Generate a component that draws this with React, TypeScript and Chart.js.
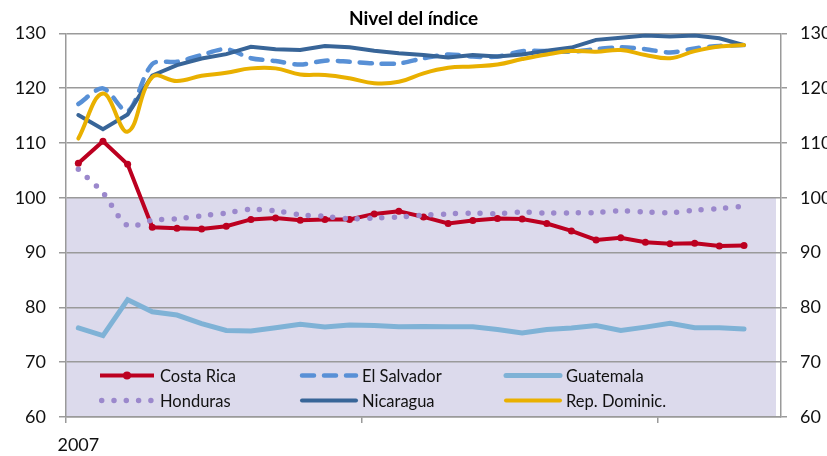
import React, { useEffect, useRef } from 'react';
import { Chart, registerables } from 'chart.js';

Chart.register(...registerables);

// ---------- data ----------
const months = [
  'ene-07', 'feb-07', 'mar-07', 'abr-07', 'may-07', 'jun-07', 'jul-07', 'ago-07', 'sep-07', 'oct-07', 'nov-07', 'dic-07',
  'ene-08', 'feb-08', 'mar-08', 'abr-08', 'may-08', 'jun-08', 'jul-08', 'ago-08', 'sep-08', 'oct-08', 'nov-08', 'dic-08',
  'ene-09', 'feb-09', 'mar-09', 'abr-09', 'may-09',
];
// labels shown at the start of each year (index 0, 12, 24)
const yearTickLabels = ['2007', '', ''];

const costaRica = [106.3, 110.3, 106.1, 94.6, 94.45, 94.3, 94.8, 96.05, 96.3, 95.9, 96.05, 96.05, 97.05, 97.55, 96.5, 95.3, 95.85, 96.2, 96.1, 95.3, 93.95, 92.3, 92.7, 91.9, 91.6, 91.7, 91.2, 91.3];
const elSalvador = [117.1, 119.95, 115.8, 124.4, 124.8, 126.05, 127.1, 125.45, 124.95, 124.3, 125.0, 124.8, 124.5, 124.5, 125.45, 126.15, 125.75, 125.75, 126.75, 126.75, 126.65, 127.1, 127.45, 127.1, 126.5, 127.25, 127.7, 127.85];
const guatemala = [76.25, 74.85, 81.4, 79.2, 78.6, 77.05, 75.8, 75.7, 76.3, 76.9, 76.4, 76.8, 76.7, 76.45, 76.5, 76.45, 76.45, 75.95, 75.35, 75.95, 76.25, 76.7, 75.8, 76.4, 77.1, 76.3, 76.3, 76.05];
const honduras = [105.2, 100.9, 94.9, 95.9, 96.15, 96.7, 97.2, 97.9, 97.6, 96.9, 96.6, 96.15, 96.3, 96.5, 96.8, 97.05, 97.2, 97.1, 97.4, 97.2, 97.25, 97.3, 97.6, 97.4, 97.25, 97.75, 98.0, 98.5];
const nicaragua = [115.1, 112.5, 115.2, 122.3, 124.2, 125.4, 126.2, 127.55, 127.1, 126.95, 127.7, 127.45, 126.8, 126.35, 126.05, 125.6, 126.05, 125.75, 126.15, 126.8, 127.4, 128.8, 129.2, 129.6, 129.4, 129.6, 129.1, 127.85];
const repDominic = [110.8, 119.0, 112.05, 122.0, 121.3, 122.25, 122.8, 123.6, 123.6, 122.5, 122.4, 121.8, 120.9, 121.15, 122.7, 123.7, 123.95, 124.3, 125.3, 126.15, 126.75, 126.65, 126.95, 126.05, 125.45, 126.75, 127.6, 127.85];

const yMin = 60;
const yMax = 130;
const yStep = 10;
const bandTop = 100;

// ---------- styles ----------
const FONT = 'Lato, "Open Sans", sans-serif';
const TEXT = '#111111';
const GRID = '#9a9a9a';
const BAND = '#dcdaec';

const bandPlugin = {
  id: 'band',
  beforeDraw(chart: any) {
    const { ctx, chartArea, scales } = chart;
    const top = scales.y.getPixelForValue(bandTop);
    const bottom = scales.y.getPixelForValue(yMin);
    ctx.save();
    ctx.fillStyle = BAND;
    ctx.fillRect(chartArea.left, top, chartArea.right - chartArea.left - 5, bottom - top);
    ctx.restore();
  },
};

const legendPlugin = {
  id: 'insideLegend',
  afterDatasetsDraw(chart: any) {
    const { ctx, chartArea } = chart;
    const colX = [chartArea.left + 34, chartArea.left + 236, chartArea.left + 440];
    const rowY = [chartArea.bottom - 41.5, chartArea.bottom - 16.5];
    const sampleLen = 54;
    chart.data.datasets.forEach((ds: any, i: number) => {
      const x = colX[i % 3];
      const y = rowY[Math.floor(i / 3)];
      ctx.save();
      ctx.strokeStyle = ds.borderColor;
      ctx.lineWidth = ds.borderWidth;
      ctx.lineCap = ds.borderCapStyle || 'butt';
      ctx.setLineDash(ds.borderDash || []);
      ctx.beginPath();
      if (ds.borderDash && ds.borderDash[0] === 0) {
        ctx.moveTo(x + 1.7, y);
        ctx.lineTo(x + sampleLen, y);
      } else {
        ctx.moveTo(x, y);
        ctx.lineTo(x + sampleLen, y);
      }
      ctx.stroke();
      ctx.setLineDash([]);
      if (ds.pointRadius > 0) {
        ctx.fillStyle = ds.borderColor;
        ctx.beginPath();
        ctx.arc(x + sampleLen / 2, y, ds.pointRadius + 0.5, 0, Math.PI * 2);
        ctx.fill();
      }
      ctx.fillStyle = TEXT;
      ctx.font = `16.5px ${FONT}`;
      ctx.textBaseline = 'middle';
      ctx.textAlign = 'left';
      ctx.fillText(ds.label, x + sampleLen + 6, y + 1);
      ctx.restore();
    });
  },
};

export default function App() {
  const canvasRef = useRef<HTMLCanvasElement | null>(null);

  useEffect(() => {
    if (!canvasRef.current) return;
    const tickFont = { family: FONT, size: 18 };
    const chart = new Chart(canvasRef.current, {
      type: 'line',
      data: {
        labels: months,
        datasets: [
          { label: 'Costa Rica', data: costaRica, borderColor: '#bc0020', backgroundColor: '#bc0020', borderWidth: 4, pointRadius: 3.5, pointHoverRadius: 3.5, pointBorderWidth: 0, pointBackgroundColor: '#bc0020', tension: 0, order: 6 },
          { label: 'El Salvador', data: elSalvador, borderColor: '#5890d6', borderWidth: 4.5, borderDash: [12, 10], borderCapStyle: 'round', pointRadius: 0, tension: 0.3, order: 5 },
          { label: 'Guatemala', data: guatemala, borderColor: '#7fb2d6', borderWidth: 5, borderCapStyle: 'round', pointRadius: 0, tension: 0, order: 4 },
          { label: 'Honduras', data: honduras, borderColor: '#9b88cc', borderWidth: 5.5, borderDash: [0, 12.3], borderCapStyle: 'round', pointRadius: 0, tension: 0.3, order: 3 },
          { label: 'Nicaragua', data: nicaragua, borderColor: '#386598', borderWidth: 4, borderCapStyle: 'round', pointRadius: 0, tension: 0, order: 2 },
          { label: 'Rep. Dominic.', data: repDominic, borderColor: '#e9b000', borderWidth: 4, borderCapStyle: 'round', pointRadius: 0, tension: 0.4, order: 1 },
        ] as any,
      },
      options: {
        responsive: false,
        animation: false,
        layout: { padding: 0 },
        plugins: {
          legend: { display: false },
          tooltip: { enabled: false },
          title: {
            display: true,
            text: 'Nivel del índice',
            color: '#000',
            font: { family: FONT, size: 19, weight: 'bold' },
            padding: { top: 7, bottom: 3.5 },
          },
        },
        scales: {
          x: {
            type: 'category',
            offset: true,
            grid: {
              offset: true,
              drawOnChartArea: false,
              drawTicks: true,
              tickLength: 6,
              lineWidth: 1.5,
              color: (c: any) => (c.index % 12 === 0 ? GRID : 'rgba(0,0,0,0)'),
            },
            border: { display: true, color: GRID, width: 1.5 },
            ticks: {
              autoSkip: false,
              maxRotation: 0,
              padding: 11,
              color: TEXT,
              font: tickFont,
              callback: (_v: any, i: number) => (i % 12 === 0 ? yearTickLabels[i / 12] ?? '' : ''),
            },
            afterFit: (s: any) => { s.height = 39; },
          },
          y: {
            position: 'left',
            min: yMin,
            max: yMax,
            ticks: { stepSize: yStep, padding: 13, color: TEXT, font: tickFont },
            grid: { color: GRID, lineWidth: 1.5, tickLength: 7 },
            border: { display: true, color: GRID, width: 1.5 },
            afterFit: (s: any) => { s.width = 66; },
          },
          y1: {
            position: 'right',
            min: yMin,
            max: yMax,
            ticks: { stepSize: yStep, padding: 13, color: TEXT, font: tickFont },
            grid: { drawOnChartArea: false, color: GRID, lineWidth: 1.5, tickLength: 6 },
            border: { display: true, color: GRID, width: 1.5 },
            afterFit: (s: any) => { s.width = 46; },
          },
        },
      } as any,
      plugins: [bandPlugin, legendPlugin],
    });
    return () => chart.destroy();
  }, []);

  return (
    <div style={{ position: 'fixed', left: 0, top: 0, width: 827, height: 456, background: '#fff' }}>
      <canvas ref={canvasRef} width={827} height={456} style={{ display: 'block' }} />
    </div>
  );
}
